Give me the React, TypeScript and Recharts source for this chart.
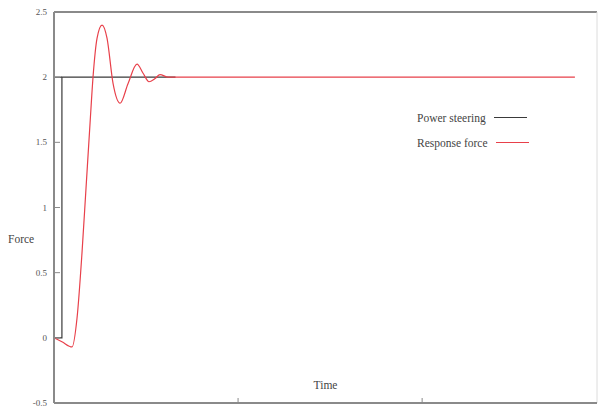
import React from "react";
import {
  LineChart,
  Line,
  XAxis,
  YAxis,
  ReferenceLine,
} from "recharts";

// ── data ────────────────────────────────────────────────────────────────────

const STEP_TIME = 0.043;
const X_MAX = 2.95;
const X_TICKS = [1, 2];
const Y_TICKS = [-0.5, 0, 0.5, 1, 1.5, 2, 2.5];

const steeringTime = [0, STEP_TIME, STEP_TIME, 0.66];
const steeringForce = [0, 0, 2, 2];

const responseTime = [
  0, 0.043, 0.098, 0.125, 0.152, 0.174, 0.196, 0.212, 0.234, 0.261, 0.288,
  0.321, 0.359, 0.402, 0.451, 0.484, 0.516, 0.549, 0.576, 0.62, 2.83,
];
const responseForce = [
  0, -0.03, -0.07, 0.15, 0.65, 1.15, 1.65, 2.0, 2.3, 2.4, 2.3, 1.95, 1.8,
  1.95, 2.1, 2.03, 1.965, 1.99, 2.02, 2.0, 2.0,
];

const SERIES = [
  { name: "Power steering", color: "#3a3a3a" },
  { name: "Response force", color: "#e8404a" },
];

const steering = steeringTime.map((t, i) => ({ t, v: steeringForce[i] }));
const response = responseTime.map((t, i) => ({ t, v: responseForce[i] }));

const FONT = "'Liberation Serif', 'DejaVu Serif', serif";
const AXIS = "#8a8a8a";

const XTick = ({ x, y }: any) => (
  <line x1={x} y1={y} x2={x} y2={y - 5} stroke={AXIS} strokeWidth={1} />
);

const YTick = ({ x, y, payload }: any) => (
  <g>
    <line x1={x} y1={y} x2={x + 6} y2={y} stroke={AXIS} strokeWidth={1} />
    <text x={x - 7} y={y} dy={3} textAnchor="end" fontSize={9} fill="#555" fontFamily={FONT}>
      {payload.value}
    </text>
  </g>
);

// legend sits inside the plot, drawn as an overlay so it takes no room
const LegendBox = () => (
  <div style={{ position: "absolute", left: 417, top: 105, fontFamily: FONT, fontSize: 11.5, color: "#444" }}>
    {SERIES.map((s) => (
      <div key={s.name} style={{ display: "flex", alignItems: "center", height: 25 }}>
        <span>{s.name}</span>
        <span style={{ display: "inline-block", width: 33, height: 1.5, background: s.color, marginLeft: 8 }} />
      </div>
    ))}
  </div>
);

export default function App() {
  return (
    <div style={{ position: "fixed", left: 0, top: 0, width: 599, height: 408, background: "#fff" }}>
      <LineChart width={599} height={408} margin={{ top: 12, right: 2, left: 0, bottom: 0 }}>
        <XAxis
          type="number"
          dataKey="t"
          domain={[0, X_MAX]}
          ticks={X_TICKS}
          interval={0}
          height={5}
          tickSize={0}
          tickMargin={0}
          tick={<XTick />}
          axisLine={{ stroke: AXIS, strokeWidth: 2 }}
          tickLine={false}
          label={{ value: "Time", position: "top", offset: 14, fontSize: 11.5, fill: "#444", fontFamily: FONT }}
        />
        <YAxis
          type="number"
          dataKey="v"
          domain={[-0.5, 2.5]}
          ticks={Y_TICKS}
          interval={0}
          width={54}
          tickSize={0}
          tickMargin={0}
          tick={<YTick />}
          axisLine={{ stroke: AXIS, strokeWidth: 2 }}
          tickLine={false}
          label={{ value: "Force", position: "insideLeft", offset: 8, dy: 31, fontSize: 11.5, fill: "#444", fontFamily: FONT }}
        />
        <ReferenceLine y={2.5} stroke={AXIS} strokeWidth={2} />
        <ReferenceLine x={X_MAX} stroke="#dcdcdc" strokeWidth={1} />
        <ReferenceLine
          segment={[{ x: 0, y: 2 }, { x: STEP_TIME, y: 2 }]}
          stroke={SERIES[0].color}
          strokeWidth={1.2}
        />
        <Line
          data={steering}
          dataKey="v"
          name={SERIES[0].name}
          type="linear"
          stroke={SERIES[0].color}
          strokeWidth={1.2}
          dot={false}
          isAnimationActive={false}
        />
        <Line
          data={response}
          dataKey="v"
          name={SERIES[1].name}
          type="monotone"
          stroke={SERIES[1].color}
          strokeWidth={1.2}
          dot={false}
          isAnimationActive={false}
        />
      </LineChart>
      <LegendBox />
    </div>
  );
}
